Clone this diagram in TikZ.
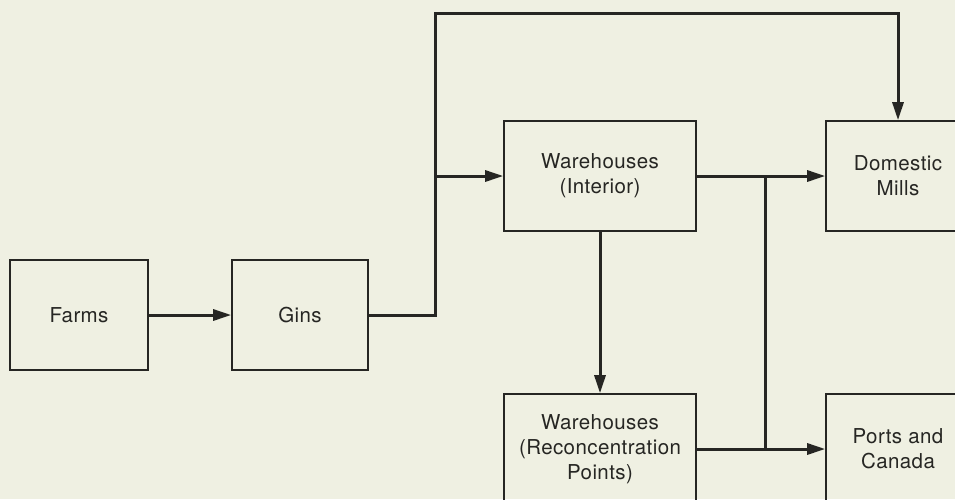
\documentclass[tikz,border=0pt]{standalone}
\usepackage{fontspec}
\setmainfont{TeX Gyre Heros}[LetterSpace=2]
\usetikzlibrary{arrows.meta}
\definecolor{bg}{HTML}{EFF0E2}
\definecolor{ink}{HTML}{262623}
\tikzset{
  box/.style={draw=ink, line width=1.6pt, rectangle, minimum width=#1, minimum height=110pt, inner sep=0pt,
    align=center, text=ink, font=\fontsize{20.5}{25}\selectfont},
  box/.default=138pt,
  conn/.style={draw=ink, line width=3pt},
  flow/.style={conn, -{Triangle[length=18pt,width=11pt]}}
}
\begin{document}
\begin{tikzpicture}[x=1pt,y=-1pt]
\fill[bg] (0,0) rectangle (955,499);
\useasboundingbox (0,0) rectangle (955,499);
\clip (0,0) rectangle (955,499);
\node[box=138pt] (farms) at (79,315) {Farms};
\node[box=136pt] (gins) at (300,315) {Gins};
\node[box=192pt] (wi) at (600,176) {Warehouses\\(Interior)};
\node[box=144pt] (mills) at (898,176) {Domestic\\Mills};
\node[box=192pt] (wr) at (600,449) {Warehouses\\(Reconcentration\\Points)};
\node[box=144pt] (ports) at (898,449) {Ports and\\Canada};
\coordinate (top) at (435,13);
\coordinate (ja) at (435,176);
\coordinate (jb) at (765,176);
\coordinate (jc) at (765,449);
\draw[flow] (farms.east) -- (gins.west);
\draw[flow] (gins.east) -| (top) -| (mills.north);
\draw[flow] (ja) -- (wi.west);
\draw[flow] (wi.east) -- (mills.west);
\draw[flow] (wi.south) -- (wr.north);
\draw[conn] (jb) -- (jc);
\draw[flow] (wr.east) -- (ports.west);
\end{tikzpicture}
\end{document}
